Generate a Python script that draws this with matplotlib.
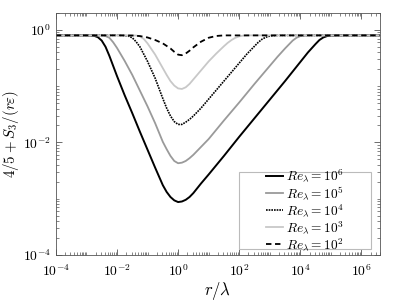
import numpy as np
import matplotlib.pyplot as plt
from matplotlib.ticker import LogLocator, FixedLocator, FuncFormatter, NullFormatter
from matplotlib.patches import Rectangle

plt.rcParams['mathtext.fontset'] = 'cm'

# curves: log10(r/lambda) and log10(4/5 + S3/(r eps))
x6 = [-4, -3.25, -3, -2.875, -2.75, -2.625, -2.5, -2.375, -2.25, -2.125, -2, -1.75,
      -1.5, -1.25, -1, -0.75, -0.5, -0.375, -0.25, -0.125, 0, 0.125, 0.25, 0.375,
      0.5, 0.75, 1, 1.5, 2, 2.5, 3, 3.5, 4, 4.25, 4.5, 4.625, 4.75, 4.875, 5, 5.25, 6.6]
y6 = [-0.097, -0.097, -0.098, -0.100, -0.105, -0.13, -0.19, -0.30, -0.46, -0.64,
      -0.82, -1.16, -1.48, -1.81, -2.13, -2.45, -2.76, -2.88, -2.97, -3.03, -3.06,
      -3.05, -3.02, -2.97, -2.90, -2.73, -2.57, -2.24, -1.90, -1.57, -1.24, -0.91,
      -0.57, -0.40, -0.25, -0.18, -0.135, -0.11, -0.100, -0.097, -0.097]

x5 = [-4, -2.75, -2.5, -2.375, -2.25, -2.125, -2, -1.75, -1.5, -1.25, -1, -0.75,
      -0.5, -0.375, -0.25, -0.125, 0, 0.125, 0.25, 0.375, 0.5, 0.75, 1, 1.5, 2, 2.5,
      3, 3.25, 3.5, 3.625, 3.75, 3.875, 4, 4.25, 6.6]
y5 = [-0.097, -0.097, -0.100, -0.11, -0.14, -0.22, -0.32, -0.55, -0.80, -1.08,
      -1.36, -1.66, -1.99, -2.12, -2.24, -2.33, -2.37, -2.36, -2.33, -2.28, -2.22,
      -2.08, -1.94, -1.61, -1.29, -0.96, -0.64, -0.48, -0.33, -0.26, -0.19, -0.14,
      -0.11, -0.098, -0.097]

x4 = [-4, -2, -1.75, -1.625, -1.5, -1.375, -1.25, -1, -0.75, -0.5, -0.375, -0.25,
      -0.125, 0, 0.125, 0.25, 0.375, 0.5, 0.75, 1, 1.5, 2, 2.25, 2.5, 2.625, 2.75,
      2.875, 3, 3.25, 6.6]
y4 = [-0.097, -0.097, -0.100, -0.11, -0.14, -0.21, -0.30, -0.56, -0.86, -1.22,
      -1.39, -1.53, -1.63, -1.68, -1.68, -1.64, -1.59, -1.53, -1.39, -1.23, -0.91,
      -0.59, -0.43, -0.29, -0.22, -0.165, -0.13, -0.11, -0.098, -0.097]

x3 = [-4, -1.5, -1.375, -1.25, -1.125, -1, -0.75, -0.5, -0.375, -0.25, -0.125, 0,
      0.125, 0.25, 0.375, 0.5, 0.75, 1, 1.25, 1.5, 1.625, 1.75, 1.875, 2, 2.125,
      2.375, 6.6]
y3 = [-0.097, -0.098, -0.10, -0.115, -0.16, -0.24, -0.44, -0.68, -0.80, -0.91,
      -0.99, -1.04, -1.05, -1.02, -0.96, -0.88, -0.72, -0.56, -0.42, -0.29, -0.23,
      -0.18, -0.14, -0.115, -0.102, -0.097, -0.097]

x2 = [-4, -2, -1.5, -1.25, -1, -0.75, -0.5, -0.25, -0.125, 0, 0.125, 0.25, 0.375,
      0.5, 0.75, 1, 1.25, 1.5, 6.6]
y2 = [-0.097, -0.097, -0.10, -0.11, -0.135, -0.18, -0.24, -0.33, -0.39, -0.44,
      -0.45, -0.42, -0.37, -0.31, -0.21, -0.14, -0.108, -0.098, -0.097]

labels = [r'$Re_\lambda = 10^6$', r'$Re_\lambda = 10^5$', r'$Re_\lambda = 10^4$',
          r'$Re_\lambda = 10^3$', r'$Re_\lambda = 10^2$']

fig = plt.figure(figsize=(3.99, 3.01), dpi=100)
ax = fig.add_axes([0.140, 0.153, 0.812, 0.804])

def p(v):
    return 10.0 ** np.array(v)

ax.plot(p(x6), p(y6), color='black', lw=1.4, label=labels[0])
ax.plot(p(x5), p(y5), color='#9a9a9a', lw=1.3, label=labels[1])
ax.plot(p(x4), p(y4), color='black', lw=1.2, ls=(0, (1, 0.6)), label=labels[2])
ax.plot(p(x3), p(y3), color='#c8c8c8', lw=1.3, label=labels[3])
ax.plot(p(x2), p(y2), color='black', lw=1.3, ls=(0, (3, 2)), label=labels[4])

ax.set_xscale('log')
ax.set_yscale('log')
ax.set_xlim(1e-4, 4e6)
ax.set_ylim(1e-4, 2)

ax.xaxis.set_major_locator(FixedLocator([1e-4, 1e-2, 1e0, 1e2, 1e4, 1e6]))
ax.yaxis.set_major_locator(FixedLocator([1e-4, 1e-2, 1e0]))
ax.xaxis.set_minor_locator(LogLocator(base=10, subs=np.arange(1, 10), numticks=50))
ax.yaxis.set_minor_locator(LogLocator(base=10, subs=np.arange(1, 10), numticks=50))
fmt = FuncFormatter(lambda v, pos: r'$\mathsf{10^{%d}}$' % int(round(np.log10(v))))
ax.xaxis.set_major_formatter(fmt)
ax.yaxis.set_major_formatter(fmt)
ax.xaxis.set_minor_formatter(NullFormatter())
ax.yaxis.set_minor_formatter(NullFormatter())

ax.tick_params(which='both', direction='in', top=True, right=True, color='#555555',
               labelsize=9.8)
ax.tick_params(axis='x', which='major', pad=6)
ax.tick_params(which='major', length=4, width=0.6)
ax.tick_params(which='minor', length=2, width=0.5)
for s in ax.spines.values():
    s.set_color('#555555')
    s.set_linewidth(0.6)

ax.set_xlabel(r'$r/\lambda$', fontsize=12)
ax.set_ylabel(r'$4/5 + S_3/(r\varepsilon)$', fontsize=10.8)
ax.xaxis.set_label_coords(0.5, -0.105)
ax.yaxis.set_label_coords(-0.107, 0.5)

# MATLAB-style legend: wide box, entries centred in it
ax.add_patch(Rectangle((0.565, 0.025), 0.407, 0.318, transform=ax.transAxes,
                       facecolor='white', edgecolor='#bbbbbb', lw=0.8, zorder=4))
leg = ax.legend(loc='center', bbox_to_anchor=(0.769, 0.186), fontsize=9.6,
                handlelength=1.25, handletextpad=0.2, labelspacing=0.0,
                frameon=False, borderpad=0)
leg.set_zorder(5)

fig.savefig('out.png', dpi=100)
